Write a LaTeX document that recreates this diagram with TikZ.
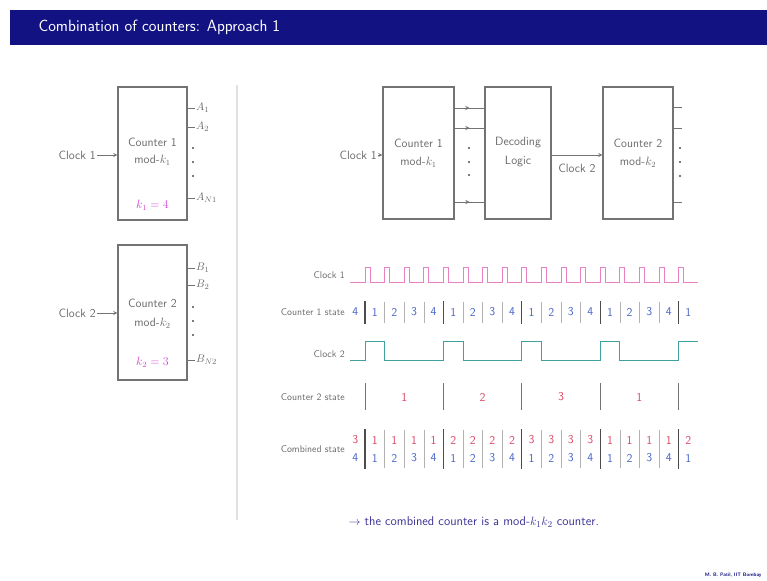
\documentclass[tikz,border=0pt]{standalone}
\usepackage{amsmath}
\usetikzlibrary{arrows,decorations.markings}
\renewcommand{\familydefault}{\sfdefault}

\definecolor{barblue}{RGB}{18,18,130}
\definecolor{clkpink}{RGB}{232,128,196}
\definecolor{clkteal}{RGB}{64,160,160}
\definecolor{stblue}{RGB}{70,100,200}
\definecolor{stred}{RGB}{220,70,100}
\definecolor{kmag}{RGB}{205,70,205}
\definecolor{txtgray}{RGB}{105,105,105}
\definecolor{notecol}{RGB}{60,50,150}

\tikzset{
  blk/.style={draw=black!55, line width=1.1pt, minimum width=#1, minimum height=132pt, inner sep=0pt},
  lbl/.style={text=txtgray, font=\fontsize{12}{13}\selectfont, inner sep=1pt},
  olbl/.style={text=txtgray, font=\fontsize{11}{12}\selectfont, inner sep=1pt, anchor=west},
  tlbl/.style={text=txtgray, font=\fontsize{9.8}{10}\selectfont, anchor=east, inner sep=1pt},
  stnum/.style={font=\fontsize{12}{12}\selectfont, inner sep=0pt},
  dotmark/.style={circle, fill=black!70, inner sep=0pt, minimum size=2.4pt},
  midarr/.style={postaction={decorate}, decoration={markings, mark=at position 0.5 with {\arrow{stealth}}}},
  wire/.style={draw=black!55, line width=0.9pt}
}

\begin{document}
\begin{tikzpicture}[>=stealth, x=1pt, y=-1pt]
  \useasboundingbox (0,0) rectangle (767,580);
  % title bar
  \fill[barblue] (10,10) rectangle (767,45);
  \node[anchor=west, text=white, font=\fontsize{16.3}{17}\selectfont] (title) at (35,27) {Combination of counters: Approach 1};
  % separator
  \draw[black!12, line width=2pt] (237,85) -- (237,520);

  % ---- left: counter 1 ----
  \node[blk=69pt, minimum height=133pt] (lc1) at (152.5,153.5) {};
  \node[lbl] (lc1t) at (152.5,142) {Counter 1};
  \node[lbl] (lc1m) at (152.5,160) {mod-$k_1$};
  \node[lbl, text=kmag] (lc1k) at (152.5,205) {$k_1=4$};
  \node[lbl, anchor=east] (lclk1) at (97,155) {Clock 1};
  \draw[wire,->] (lclk1) -- (lc1.west |- lclk1);
  \node[olbl] (a1) at (195,108) {$A_1$};
  \node[olbl] (a2) at (195,127) {$A_2$};
  \node[olbl] (an) at (195,198) {$A_{N1}$};
  \foreach \o in {a1,a2,an} \draw[wire] (lc1.east |- \o) -- (\o.west);
  \foreach \y [count=\i] in {148,162,176} \node[dotmark] (ad\i) at (193,\y) {};

  % ---- left: counter 2 ----
  \node[blk=69pt, minimum height=135pt] (lc2) at (152.5,312.5) {};
  \node[lbl] (lc2t) at (152.5,303) {Counter 2};
  \node[lbl] (lc2m) at (152.5,323) {mod-$k_2$};
  \node[lbl, text=kmag] (lc2k) at (152.5,362) {$k_2=3$};
  \node[lbl, anchor=east] (lclk2) at (97,313) {Clock 2};
  \draw[wire,->] (lclk2) -- (lc2.west |- lclk2);
  \node[olbl] (b1) at (195,268) {$B_1$};
  \node[olbl] (b2) at (195,285) {$B_2$};
  \node[olbl] (bn) at (195,360) {$B_{N2}$};
  \foreach \o in {b1,b2,bn} \draw[wire] (lc2.east |- \o) -- (\o.west);
  \foreach \y [count=\i] in {307,321,335} \node[dotmark] (bd\i) at (193,\y) {};

  % ---- right: block diagram ----
  \node[blk=71pt] (rc1) at (418.5,153) {};
  \node[lbl] (rc1t) at (418.5,143) {Counter 1};
  \node[lbl] (rc1m) at (418.5,162) {mod-$k_1$};
  \node[blk=66pt] (dec) at (518,153) {};
  \node[lbl] (dect) at (518,143) {Decoding};
  \node[lbl] (decm) at (518,162) {Logic};
  \node[blk=70pt] (rc2) at (638,153) {};
  \node[lbl] (rc2t) at (638,143) {Counter 2};
  \node[lbl] (rc2m) at (638,162) {mod-$k_2$};
  \node[lbl, anchor=east] (rclk1) at (378,155) {Clock 1};
  \draw[wire,->] (rclk1) -- (rc1.west |- rclk1);
  \foreach \y [count=\i] in {108,128,202} {
    \coordinate (q\i) at (454,\y);
    \draw[wire,midarr] (rc1.east |- q\i) -- (dec.west |- q\i);
  }
  \foreach \y [count=\i] in {148,162,175} \node[dotmark] (qd\i) at (469,\y) {};
  \coordinate (c2in) at (580,155);
  \draw[wire,->] (dec.east |- c2in) -- (rc2.west |- c2in);
  \node[lbl] (rclk2) at (577,168) {Clock 2};
  \foreach \y [count=\i] in {107,128,202} {
    \coordinate (r\i) at (682,\y);
    \draw[wire] (rc2.east |- r\i) -- (r\i);
  }
  \foreach \y [count=\i] in {148,162,176} \node[dotmark] (rd\i) at (680,\y) {};

  % ---- timing diagram ----
  \node[tlbl] (tclk1) at (346,275) {Clock 1};
  \node[tlbl] (tst1) at (346,312) {Counter 1 state};
  \node[tlbl] (tclk2) at (346,354) {Clock 2};
  \node[tlbl] (tst2) at (346,397) {Counter 2 state};
  \node[tlbl] (tcomb) at (346,449) {Combined state};
  % clock 1
  \draw[clkpink, line width=0.8pt] (350,282)
    \foreach \k in {0,...,16} { -- ({365+19.6*\k},282) -- ++(0,-15) -- ++(5,0) -- ++(0,15) } -- (698,282);
  % counter 1 state
  \foreach \v [count=\j from 0] in {4,1,2,3,4,1,2,3,4,1,2,3,4,1,2,3,4,1}
    \node[stnum, text=stblue] (sa\j) at ({355.2+19.6*\j},312) {\v};
  \foreach \k in {0,...,16} {
    \pgfmathtruncatemacro\r{mod(\k,4)}
    \ifnum\r=0
      \draw[black!70, line width=1.1pt] ({365+19.6*\k},301) -- ++(0,23);
    \else
      \draw[black!30, line width=0.5pt] ({365+19.6*\k},302) -- ++(0,21);
    \fi
  }
  % clock 2
  \draw[clkteal, line width=1pt] (350,360)
    \foreach \m in {0,...,3} { -- ({365+78.4*\m},360) -- ++(0,-19) -- ++(19.6,0) -- ++(0,19) }
    -- (678.6,360) -- (678.6,341) -- (698,341);
  % counter 2 state
  \foreach \m in {0,...,4} \draw[black!55, line width=0.8pt] ({365+78.4*\m},383) -- ++(0,27);
  \foreach \v [count=\j from 0] in {1,2,3,1}
    \node[stnum, text=stred] (sb\j) at ({404.2+78.4*\j},397) {\v};
  % combined state
  \foreach \v [count=\j from 0] in {3,1,1,1,1,2,2,2,2,3,3,3,3,1,1,1,1,2}
    \node[stnum, text=stred] (ct\j) at ({355.2+19.6*\j},440) {\v};
  \foreach \v [count=\j from 0] in {4,1,2,3,4,1,2,3,4,1,2,3,4,1,2,3,4,1}
    \node[stnum, text=stblue] (cb\j) at ({355.2+19.6*\j},458) {\v};
  \foreach \k in {0,...,16} {
    \pgfmathtruncatemacro\r{mod(\k,4)}
    \ifnum\r=0
      \draw[black!70, line width=1.1pt] ({365+19.6*\k},429) -- ++(0,40);
    \else
      \draw[black!30, line width=0.5pt] ({365+19.6*\k},430) -- ++(0,38);
    \fi
  }

  % note
  \node[anchor=west, text=notecol, font=\fontsize{12.7}{14}\selectfont] (note) at (345,522)
    {$\rightarrow$ the combined counter is a mod-$k_1k_2$ counter.};
  % footer
  \node[anchor=east, text=barblue, font=\bfseries\fontsize{5}{6}\selectfont] (foot) at (765,575) {M. B. Patil, IIT Bombay};
\end{tikzpicture}
\end{document}
